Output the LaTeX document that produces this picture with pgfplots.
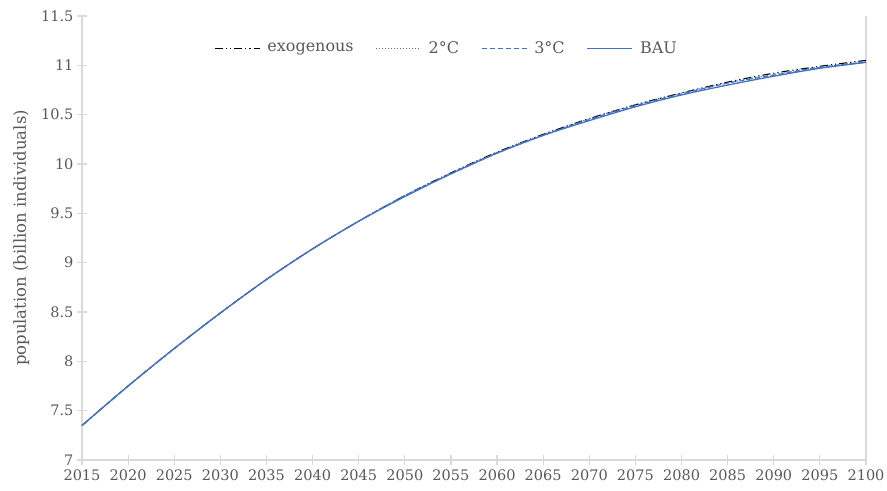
\documentclass[border=0pt]{standalone}
\usepackage{fontspec}
\setmainfont{DejaVu Serif}
\usepackage{pgfplots}
\pgfplotsset{compat=1.18}
\definecolor{axgray}{HTML}{D9D9D9}
\definecolor{txtgray}{HTML}{595959}
\definecolor{bau}{HTML}{4472C4}
\begin{document}
\begin{tikzpicture}
\begin{axis}[
  name=ax,
  scale only axis,
  width=784pt, height=444pt,
  xmin=2015, xmax=2100, ymin=7, ymax=11.5,
  xtick={2015,2020,...,2100},
  ytick={7,7.5,...,11.5},
  axis x line*=bottom,
  axis y line*=box,
  ytick pos=left,
  axis line style={axgray, line width=1.2pt},
  every tick/.style={axgray, line width=1.2pt},
  tick align=center,
  major tick length=10pt,
  /pgf/number format/1000 sep={},
  /pgf/number format/assume math mode=true,
  ticklabel style={font=\fontsize{14.5}{17}\selectfont, text=txtgray},
  xticklabel style={yshift=-1pt},
  ylabel={population (billion individuals)},
  ylabel style={font=\fontsize{16.5}{19}\selectfont, text=txtgray},
  ylabel shift=5pt,
  legend style={draw=none, fill=none, at={(0.465,0.952)}, anchor=north,
    legend columns=4, font=\fontsize{16}{19}\selectfont, text=txtgray,
    /tikz/every even column/.append style={column sep=20pt},
    /tikz/every odd column/.append style={column sep=5pt}},
  legend image code/.code={\draw[#1] (0pt,0pt) -- (45pt,0pt);},
  clip=false,
]
\addplot[black, line width=1.1pt, dash pattern=on 8pt off 3pt on 1.2pt off 3pt on 1.2pt off 3pt, smooth] coordinates {
(2015,7.35)(2020,7.75)(2025,8.13)(2030,8.49)(2035,8.83)(2040,9.14)(2045,9.42)(2050,9.68)(2055,9.91)(2060,10.12)(2065,10.30)(2070,10.46)(2075,10.60)(2080,10.72)(2085,10.83)(2090,10.92)(2095,10.99)(2100,11.05)};
\addlegendentry{exogenous}
\addplot[bau, line width=1pt, dotted, smooth] coordinates {
(2015,7.35)(2020,7.75)(2025,8.13)(2030,8.49)(2035,8.83)(2040,9.14)(2045,9.42)(2050,9.68)(2055,9.91)(2060,10.12)(2065,10.30)(2070,10.46)(2075,10.60)(2080,10.72)(2085,10.82)(2090,10.91)(2095,10.98)(2100,11.04)};
\addlegendentry{2°C}
\addplot[bau, line width=1.2pt, dash pattern=on 5pt off 3pt, smooth] coordinates {
(2015,7.35)(2020,7.75)(2025,8.13)(2030,8.49)(2035,8.83)(2040,9.14)(2045,9.42)(2050,9.68)(2055,9.90)(2060,10.11)(2065,10.29)(2070,10.45)(2075,10.59)(2080,10.71)(2085,10.82)(2090,10.90)(2095,10.98)(2100,11.03)};
\addlegendentry{3°C}
\addplot[bau, line width=1.3pt, smooth] coordinates {
(2015,7.35)(2020,7.75)(2025,8.13)(2030,8.49)(2035,8.83)(2040,9.14)(2045,9.42)(2050,9.67)(2055,9.90)(2060,10.11)(2065,10.29)(2070,10.44)(2075,10.58)(2080,10.70)(2085,10.80)(2090,10.89)(2095,10.97)(2100,11.03)};
\addlegendentry{BAU}
\end{axis}
\pgfresetboundingbox
\path[use as bounding box] ([xshift=-82pt,yshift=-31pt]ax.south west) rectangle ([xshift=21pt,yshift=16pt]ax.north east);
\end{tikzpicture}
\end{document}
